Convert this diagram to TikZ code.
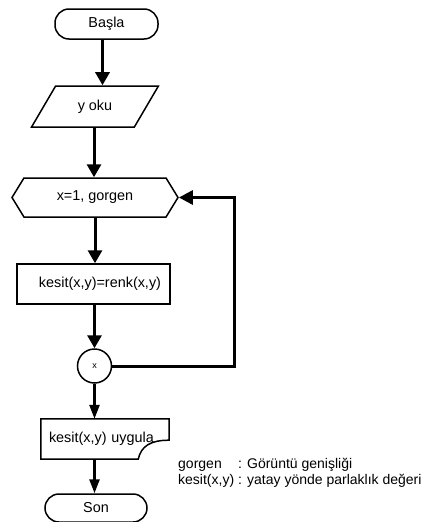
\documentclass[tikz,border=0pt]{standalone}
\usepackage{fontspec}
\setmainfont{Liberation Sans}
\usepackage{tikz}
\usetikzlibrary{arrows.meta,positioning,shapes.geometric,shapes.symbols,calc}

\begin{document}
\begin{tikzpicture}[
  x=1pt, y=-1pt,
  every node/.style={font=\fontsize{14.4}{16}\selectfont},
  terminal/.style={draw, line width=1.5pt, rounded corners=14pt, minimum width=103pt, minimum height=30pt},
  inout/.style={draw, line width=1.5pt, trapezium, trapezium left angle=58, trapezium right angle=122,
    trapezium stretches=true, minimum width=127pt, minimum height=41pt},
  prep/.style={draw, line width=1.5pt, signal, signal to=west and east, signal pointer angle=117,
    minimum width=166pt, minimum height=39pt},
  process/.style={draw, line width=1.5pt, minimum height=40pt},
  joint/.style={draw, line width=1.5pt, circle, minimum size=34pt, inner sep=0pt, font=\fontsize{9}{10}\selectfont},
  flow/.style={-{Triangle[length=13pt,width=14pt]}, line width=3pt},
  thinflow/.style={-{Triangle[length=14pt,width=10pt]}, line width=2.6pt}
]
  \useasboundingbox (0,0) rectangle (426,522);

  % Flowchart steps
  \node[terminal] (start) at (106.5,24) {Başla};
  \node[inout] (read) at (95,106.5) {y oku};
  \node[prep] (init) at (95,197.5) {x=1, gorgen};
  \node[process, text width=135pt, inner xsep=9pt, align=right] (calc) at (93.5,284) {kesit(x,y)=renk(x,y)};
  \node[joint] (merge) at (94.5,366) {x};
  \node[text width=112pt, inner xsep=8pt, align=left, minimum height=40pt] (write) at (105,439) {kesit(x,y) uygula};
  \node[terminal, minimum width=102pt, minimum height=28pt] (stop) at (96,508) {Son};

  % Output box with the torn corner
  \draw[line width=1.5pt] (write.north west) -- (write.north east) -- ([yshift=19pt]write.south east)
    .. controls ([xshift=-19pt,yshift=19pt]write.south east) and ([xshift=-28pt,yshift=13pt]write.south east)
    .. ([xshift=-31pt]write.south east) -- (write.south west) -- cycle;

  % Main flow
  \draw[flow] ([xshift=-4pt]start.south) -- ([xshift=-4pt]start.south |- read.north);
  \draw[flow] ([xshift=-1pt]read.south) -- ([xshift=-1pt]read.south |- init.north);
  \draw[flow] (init.south) -- (init.south |- calc.north);
  \draw[flow] (calc.south -| merge.north) -- (merge.north);
  \draw[thinflow] (merge.south) -- (merge.south |- write.north);
  \draw[thinflow] (merge.south |- write.south) -- (merge.south |- stop.north);

  % Loop back to the preparation step
  \coordinate (back) at (234,197.5);
  \draw[flow, -{Triangle[length=14pt,width=14pt]}] (merge.east) -| (back) -- (init.east);

  % Legend
  \node[anchor=west, inner sep=0pt, font=\fontsize{14}{16}\selectfont] (legend) at (178,473) {%
    \begin{tabular}{@{}l@{ }l@{}}
      gorgen & : Görüntü genişliği\\
      kesit(x,y) & : yatay yönde parlaklık değeri
    \end{tabular}};
\end{tikzpicture}
\end{document}
